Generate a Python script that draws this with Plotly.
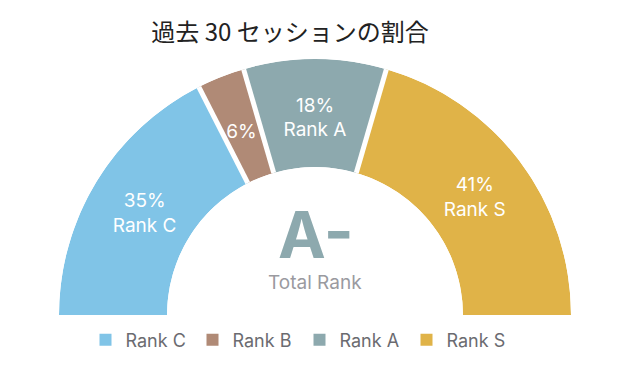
import math
import plotly.graph_objects as go

categories = ["Rank C", "Rank B", "Rank A", "Rank S"]
shares = [35, 6, 18, 41]
slice_labels = ["35%<br>Rank C", "6%", "18%<br>Rank A", "41%<br>Rank S"]
colors = ["#80C4E7", "#B08A76", "#8DA9AE", "#E0B348"]
title_text = "過去 30 セッションの割合"
center_rank = "A-"
center_caption = "Total Rank"

total = sum(shares)
widths = [s / total * 180 for s in shares]
centers = []
bounds = []
acc = 0
for w in widths:
    centers.append(acc + w / 2)
    acc += w
    bounds.append(acc)
inner_bounds = bounds[:-1]

# page body has an 8px margin; figure coords = reference coords - 8
W, H = 625, 365
cx, cy, R = 307, 307, 256
HOLE = 0.578
r_in = HOLE * R

# label anchor: mid-ring radius, nudged 4px downward on screen
lab_r, lab_t = [], []
for th in centers:
    rp = r_in + 0.48 * (R - r_in)
    x = -rp * math.cos(math.radians(th))
    y = rp * math.sin(math.radians(th)) - 4
    rp2 = math.hypot(x, y)
    lab_t.append(math.degrees(math.atan2(y, -x)))
    lab_r.append((rp2 - r_in) / (R - r_in))

fig = go.Figure()
for cat, th, w, col in zip(categories, centers, widths, colors):
    fig.add_trace(go.Barpolar(
        r=[1], theta=[th], width=[w], name=cat,
        marker=dict(color=col, line=dict(width=0)),
        hoverinfo="skip",
    ))

# white separators between slices
sep_r, sep_t = [], []
for b in inner_bounds:
    sep_r += [0, 1, None]
    sep_t += [b, b, None]
fig.add_trace(go.Scatterpolar(
    r=sep_r, theta=sep_t, mode="lines",
    line=dict(color="white", width=5),
    showlegend=False, hoverinfo="skip",
))

fig.add_trace(go.Scatterpolar(
    r=lab_r, theta=lab_t, mode="text",
    text=slice_labels, textposition="middle center",
    textfont=dict(family="Inter, sans-serif", size=19, color="white"),
    showlegend=False, hoverinfo="skip",
))

fig.update_layout(
    width=W, height=H,
    margin=dict(l=0, r=0, t=0, b=0),
    paper_bgcolor="white", plot_bgcolor="white",
    title=dict(text=title_text, x=282 / W, xanchor="center", xref="paper",
               y=1 - 25 / H, yanchor="middle", yref="container",
               font=dict(family="Noto Sans CJK JP", size=24, color="#222222")),
    polar=dict(
        domain=dict(x=[(cx - R) / W, (cx + R) / W], y=[1 - cy / H, 1 - (cy - R) / H]),
        sector=[0, 180], hole=HOLE, bgcolor="white",
        radialaxis=dict(visible=False, range=[0, 1]),
        angularaxis=dict(visible=False, rotation=180, direction="clockwise"),
    ),
    bargap=0,
    legend=dict(orientation="h", x=291.5 / W, xanchor="center", y=1 - 332 / H, yanchor="middle",
                entrywidth=62, entrywidthmode="pixels",
                font=dict(family="Inter, sans-serif", size=18, color="#6B6B70")),
    annotations=[
        dict(text="<b>" + center_rank + "</b>", x=308 / W, y=1 - 226 / H, xref="paper", yref="paper",
             showarrow=False, xanchor="center", yanchor="middle",
             font=dict(family="Inter, sans-serif", size=64, color="#8DA9AE")),
        dict(text=center_caption, x=307 / W, y=1 - 274 / H, xref="paper", yref="paper",
             showarrow=False, xanchor="center", yanchor="middle",
             font=dict(family="Inter, sans-serif", size=19, color="#9A9AA0")),
    ],
)

fig.write_html("out.html")
